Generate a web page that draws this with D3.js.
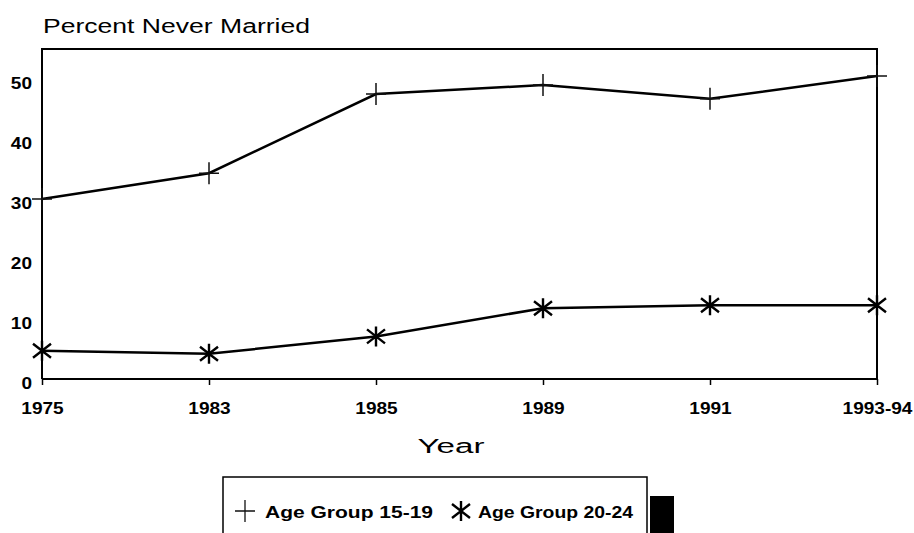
<!DOCTYPE html>
<html>
<head>
<meta charset="utf-8">
<script src="https://cdn.jsdelivr.net/npm/d3@7"></script>
<style>
  body { margin: 0; background: #fff; }
  svg { display: block; font-family: "Liberation Sans", Arial, sans-serif; }
</style>
</head>
<body>
<svg id="chart" width="914" height="533"></svg>
<script>
const years = ["1975", "1983", "1985", "1989", "1991", "1993-94"];
const age1519 = [30, 34.3, 47.5, 49, 46.7, 50.5];
const age2024 = [4.7, 4.2, 7.1, 11.8, 12.3, 12.3];
const yTicks = [0, 10, 20, 30, 40, 50];
const seriesNames = ["Age Group 15-19", "Age Group 20-24"];

const svg = d3.select("#chart");
const plotLeft = 42, plotRight = 877, plotTop = 49, plotBottom = 379;

var x = d3.scalePoint().domain(years).range([plotLeft, plotRight]).padding(0);
var y = d3.scaleLinear().domain([0, 55]).range([plotBottom, plotTop]);

// stretch text horizontally, the scan is wider than normal type
function stretch(sel, k) {
	sel.each(function () {
		const w = this.getComputedTextLength();
		d3.select(this).attr("textLength", w * k).attr("lengthAdjust", "spacingAndGlyphs");
	});
}

// title
svg.append("text")
	.attr("x", 43).attr("y", 33)
	.attr("font-size", 20)
	.attr("textLength", 267).attr("lengthAdjust", "spacingAndGlyphs")
	.text("Percent Never Married");

// frame
svg.append("path")
	.attr("d", `M${plotLeft},${plotBottom}V${plotTop}H${plotRight}V${plotBottom}H${plotLeft}`)
	.attr("fill", "none").attr("stroke", "#000").attr("stroke-width", 2);

// x axis
const gx = svg.append("g")
	.attr("transform", `translate(0,${plotBottom})`)
	.call(d3.axisBottom(x).tickSize(6).tickPadding(17));
gx.select(".domain").remove();
gx.selectAll(".tick line").attr("stroke", "#000").attr("stroke-width", 1.5);
gx.selectAll(".tick text")
	.attr("font-size", 17).attr("font-weight", "bold").attr("fill", "#000")
	.call(stretch, 1.12);

// y axis
const gy = svg.append("g")
	.attr("transform", `translate(${plotLeft},0)`)
	.call(d3.axisLeft(y).tickValues(yTicks).tickSize(0).tickPadding(10));
gy.select(".domain").remove();
gy.selectAll(".tick text")
	.attr("font-size", 17).attr("font-weight", "bold").attr("fill", "#000")
	.attr("dy", "0.55em")
	.call(stretch, 1.12);

// axis title
svg.append("text")
	.attr("x", 451).attr("y", 453)
	.attr("text-anchor", "middle")
	.attr("font-size", 20)
	.attr("textLength", 67).attr("lengthAdjust", "spacingAndGlyphs")
	.text("Year");

const line = d3.line().x((d, i) => x(years[i])).y(d => y(d));

svg.append("path").datum(age1519)
	.attr("d", line).attr("fill", "none")
	.attr("stroke", "#000").attr("stroke-width", 2.5);
svg.append("path").datum(age2024)
	.attr("d", line).attr("fill", "none")
	.attr("stroke", "#000").attr("stroke-width", 2.5);

const plusPath = (cx, cy) => `M${cx},${cy - 11}V${cy + 11}M${cx - 10},${cy}H${cx + 10}`;
const starPath = (cx, cy) => `M${cx},${cy - 10}V${cy + 10}M${cx - 9},${cy - 7}L${cx + 9},${cy + 7}M${cx - 9},${cy + 7}L${cx + 9},${cy - 7}`;

svg.append("g").selectAll("path")
	.data(age1519)
	.join("path")
		.attr("d", (d, i) => plusPath(x(years[i]), y(d)))
		.attr("stroke", "#111").attr("stroke-width", 1.5).attr("fill", "none");

svg.append("g").selectAll("path")
	.data(age2024)
	.join("path")
		.attr("d", (d, i) => starPath(x(years[i]), y(d)))
		.attr("stroke", "#000").attr("stroke-width", 2.4).attr("fill", "none");

// legend
const lg = svg.append("g");
lg.append("rect")
	.attr("x", 223).attr("y", 477).attr("width", 424).attr("height", 80)
	.attr("fill", "#fff").attr("stroke", "#000").attr("stroke-width", 1.5);
lg.append("rect")
	.attr("x", 650).attr("y", 496).attr("width", 24).attr("height", 40)
	.attr("fill", "#000");
lg.append("path").attr("d", plusPath(245, 511))
	.attr("stroke", "#111").attr("stroke-width", 1.3).attr("fill", "none");
lg.append("path").attr("d", starPath(461, 511))
	.attr("stroke", "#000").attr("stroke-width", 2.4).attr("fill", "none");
lg.selectAll("text.leg")
	.data(seriesNames)
	.join("text")
		.attr("class", "leg")
		.attr("x", (d, i) => i === 0 ? 265 : 478)
		.attr("y", 518)
		.attr("font-size", 16).attr("font-weight", "bold")
		.attr("textLength", (d, i) => i === 0 ? 168 : 155)
		.attr("lengthAdjust", "spacingAndGlyphs")
		.text(d => d);
</script>
</body>
</html>
